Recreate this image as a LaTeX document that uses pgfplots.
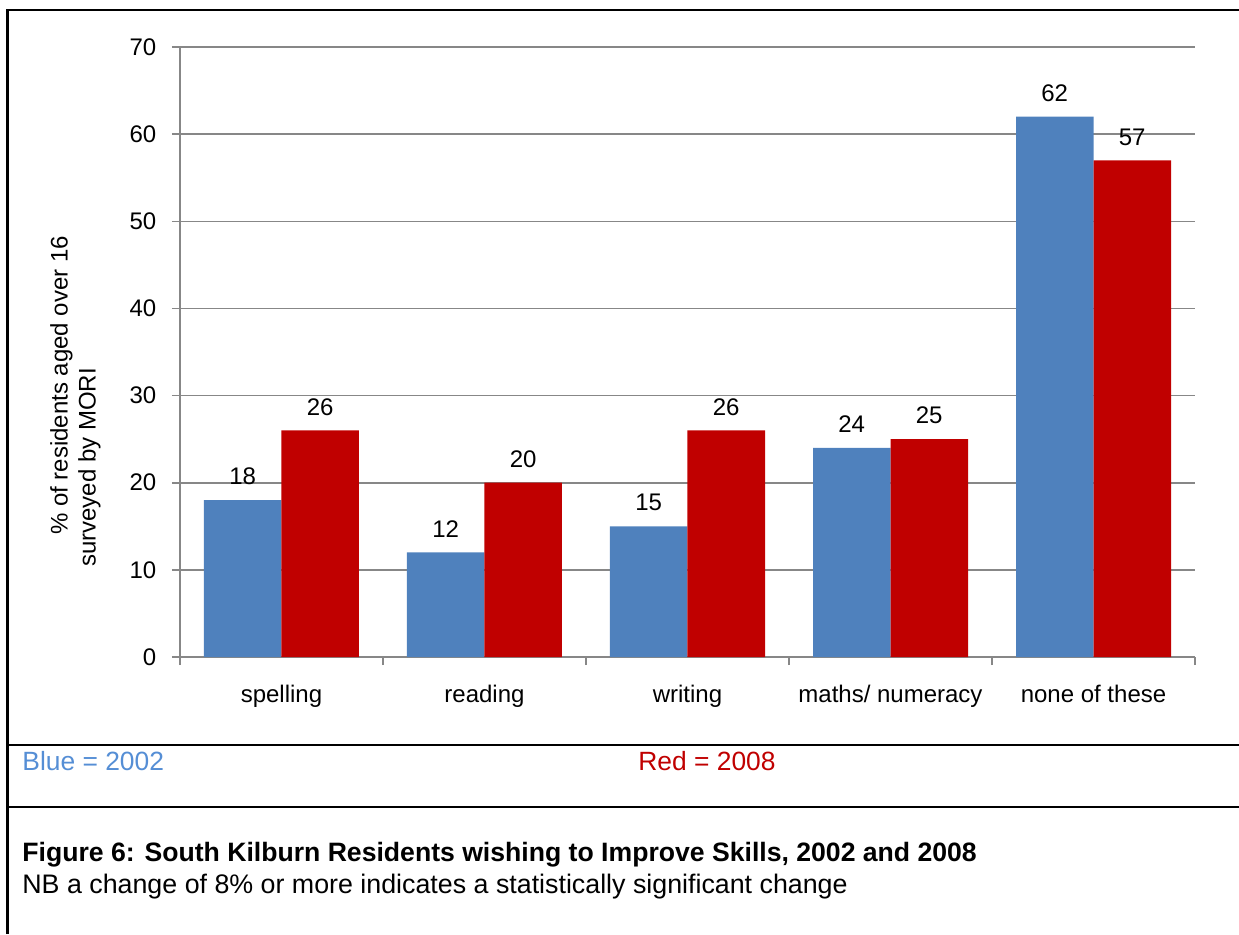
\documentclass[border=0pt]{standalone}
\usepackage{fontspec}
\setmainfont{Liberation Sans}
\usepackage{pgfplots}
\pgfplotsset{compat=1.18}
\definecolor{barblue}{HTML}{4F81BD}
\definecolor{barred}{HTML}{C00000}
\definecolor{axgray}{HTML}{878787}
\definecolor{txtblue}{HTML}{558ED5}
\begin{document}
\begin{tikzpicture}[font=\fontsize{12}{14}\selectfont]
\begin{axis}[
  scale only axis, width=507.5pt, height=305pt,
  at={(0,0)}, anchor=south west,
  ybar=0pt, bar width=38.75pt,
  xmin=-0.5, xmax=4.5, ymin=0, ymax=70,
  xtick={0,1,2,3,4},
  xticklabels={spelling, reading, writing, maths/ numeracy, none of these},
  minor xtick={-0.5,0.5,1.5,2.5,3.5,4.5},
  ytick={0,10,20,30,40,50,60,70},
  major x tick style={draw=none},
  tick align=outside, major tick length=4pt, minor tick length=4pt,
  tick style={axgray, line width=0.8pt},
  axis x line*=bottom, axis y line*=left,
  axis line style={axgray, line width=0.8pt, -},
  ymajorgrids, grid style={axgray, line width=0.8pt},
  /pgf/number format/assume math mode=true,
  yticklabel style={xshift=-4.3pt},
  xticklabel style={yshift=-6.5pt},
  ylabel={\hspace*{16pt}\% of residents aged over 16\\surveyed by MORI},
  ylabel style={at={(axis description cs:-0.103,0.419)}, anchor=center, align=left},
  nodes near coords,
  every node near coord/.append style={anchor=south, yshift=4pt, black},
]
\addplot[fill=barblue, draw=none] coordinates {(0,18) (1,12) (2,15) (3,24) (4,62)};
\addplot[fill=barred, draw=none] coordinates {(0,26) (1,20) (2,26) (3,25) (4,57)};
\end{axis}
\begin{scope}[x=0.5pt, y=-0.5pt, shift={(-180,-657)}]
  \path[use as bounding box] (0,0) rectangle (1239,934);
  \draw[line width=1.3pt] (7.5,934) -- (7.5,10) -- (1239,10);
  \draw[line width=1.3pt] (7.5,745) -- (1239,745);
  \draw[line width=1.3pt] (7.5,807) -- (1239,807);
  \node[anchor=west, inner sep=0pt, text=txtblue, font=\fontsize{13.2}{15}\selectfont] at (22,761) {Blue = 2002};
  \node[anchor=west, inner sep=0pt, text=barred, font=\fontsize{13.2}{15}\selectfont] at (638,761) {Red = 2008};
  \node[anchor=west, inner sep=0pt, font=\fontsize{13.3}{15}\selectfont\bfseries] at (22,855) {Figure 6: South Kilburn Residents wishing to Improve Skills, 2002 and 2008};
  \node[anchor=west, inner sep=0pt, font=\fontsize{13.4}{15}\selectfont] at (22,887) {NB a change of 8\% or more indicates a statistically significant change};
\end{scope}
\end{tikzpicture}
\end{document}
